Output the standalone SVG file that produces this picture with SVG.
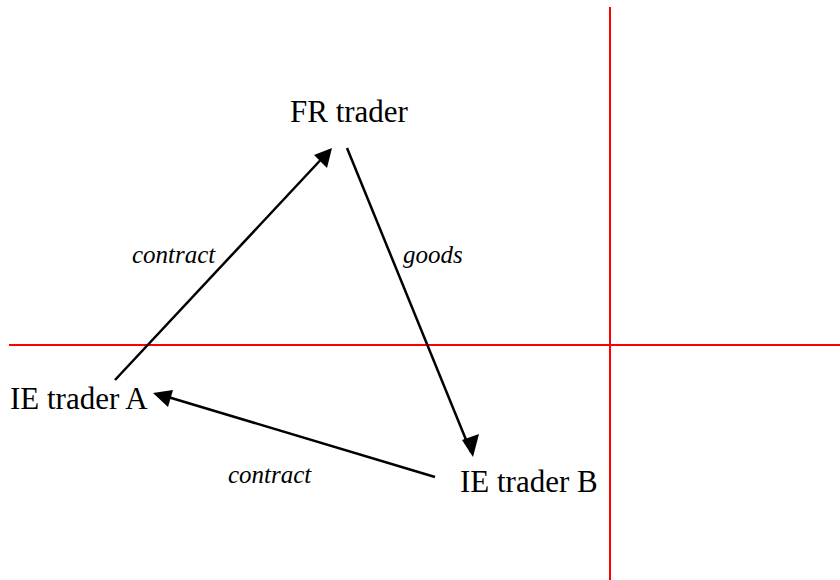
<svg xmlns="http://www.w3.org/2000/svg" width="840" height="580" viewBox="0 0 840 580">
<style>
.node{font-family:'Liberation Serif','Times New Roman',serif;font-size:31px;fill:#000}
.lbl{font-family:'Liberation Serif','Times New Roman',serif;font-size:25px;font-style:italic;fill:#000}
.axis{stroke:#ff0000;stroke-width:2}
.conn{stroke:#000;stroke-width:2.5;fill:none}
.head{fill:#000}
</style>
<rect width="840" height="580" fill="#fff"/>
<g id="axes">
<line class="axis" x1="610" y1="7" x2="610" y2="580"/>
<line class="axis" x1="9" y1="345" x2="840" y2="345"/>
</g>
<g id="connectors">
<line class="conn" x1="115" y1="380" x2="328" y2="152"/>
<path class="head" d="M332,148 L327,168 L314,155 z"/>
<line class="conn" x1="347" y1="148" x2="471" y2="452"/>
<path class="head" d="M473,457 L462,440 L479,434 z"/>
<line class="conn" x1="435" y1="477" x2="158" y2="394"/>
<path class="head" d="M153,393 L173,390 L168,407 z"/>
</g>
<g id="fr"><text class="node" x="290" y="122">FR trader</text></g>
<g id="ieA"><text class="node" x="10" y="409">IE trader A</text></g>
<g id="ieB"><text class="node" x="460" y="492">IE trader B</text></g>
<g id="labels">
<text class="lbl" x="132" y="263">contract</text>
<text class="lbl" x="403" y="263">goods</text>
<text class="lbl" x="228" y="483">contract</text>
</g>
</svg>
